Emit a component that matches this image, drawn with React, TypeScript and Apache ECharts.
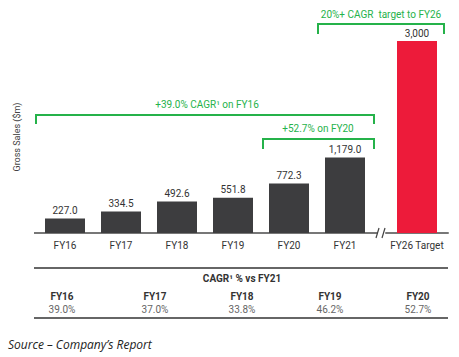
import React, { useEffect, useRef } from "react";
import * as echarts from "echarts";

const categories = ["FY16", "FY17", "FY18", "FY19", "FY20", "FY21"];
const salesValues = [227.0, 334.5, 492.6, 551.8, 772.3, 1179.0];
const targetCategory = ["FY26 Target"];
const targetValues = [3000];
const cagrLabels = ["FY16", "FY17", "FY18", "FY19", "FY20"];
const cagrValues = ["39.0%", "37.0%", "33.8%", "46.2%", "52.7%"];
const cagrColumnX = [62, 155, 242, 330, 418];

const GREEN = "#25B24A";
const DARK = "#3d3d3f";
const RED = "#ED1B3A";
const FONT = "Roboto, 'Noto Sans', sans-serif";

export default function App() {
  const ref = useRef<HTMLDivElement>(null);
  useEffect(() => {
    if (!ref.current) return;
    const chart = echarts.init(ref.current, null, { renderer: "svg" });
    const bracket = (x1: number, x2: number, y: number, drop: number) => ({
      type: "polyline",
      shape: { points: [[x1, y + drop], [x1, y], [x2, y], [x2, y + drop]] },
      style: { stroke: GREEN, lineWidth: 2, fill: "none" },
    });
    const gtext = (text: string, x: number, y: number, opts: any = {}) => ({
      type: "text",
      x,
      y,
      style: {
        text,
        fill: opts.fill || "#333",
        font: opts.font || `10px ${FONT}`,
        align: opts.align || "center",
        verticalAlign: "middle",
      },
    });
    const graphics: any[] = [
      { type: "line", shape: { x1: 34, y1: 233, x2: 378, y2: 233 }, style: { stroke: "#777", lineWidth: 2 } },
      { type: "line", shape: { x1: 376, y1: 238, x2: 379, y2: 228 }, style: { stroke: "#444", lineWidth: 1.2 } },
      { type: "line", shape: { x1: 382, y1: 238, x2: 385, y2: 228 }, style: { stroke: "#444", lineWidth: 1.2 } },
      bracket(318, 444, 24, 10),
      gtext("20%+ CAGR  target to FY26", 381, 14, { fill: GREEN }),
      bracket(36, 374, 115, 9),
      gtext("+39.0% CAGR\u00b9 on FY16", 207, 104, { fill: GREEN }),
      bracket(263, 374, 139, 10),
      gtext("+52.7% on FY20", 318, 128, { fill: GREEN }),
      { type: "line", shape: { x1: 34, y1: 268, x2: 448, y2: 268 }, style: { stroke: "#666", lineWidth: 2 } },
      { type: "line", shape: { x1: 34, y1: 318, x2: 448, y2: 318 }, style: { stroke: "#666", lineWidth: 2 } },
      gtext("CAGR\u00b9 % vs FY21", 242, 278, { font: `bold 10px ${FONT}`, fill: "#333" }),
      gtext("Source \u2013 Company\u2019s Report", 8, 344, {
        align: "left",
        font: `italic 12px 'Open Sans', 'DejaVu Sans', sans-serif`,
        fill: "#222",
      }),
    ];
    cagrLabels.forEach((l, i) => {
      graphics.push(gtext(l, cagrColumnX[i], 296, { font: `bold 10px ${FONT}`, fill: "#333" }));
      graphics.push(gtext(cagrValues[i], cagrColumnX[i], 309, { fill: "#666" }));
    });

    const yBase = {
      type: "value",
      min: 0,
      max: 3000,
      axisLine: { show: false },
      axisTick: { show: false },
      axisLabel: { show: false },
      splitLine: { show: false },
    };
    const xBase = {
      type: "category",
      axisTick: { show: false },
      axisLine: { show: true, lineStyle: { color: "#777", width: 2 } },
      axisLabel: { color: "#333", fontSize: 10, fontFamily: FONT, margin: 7 },
    };
    const fmt = (v: number, d: number) =>
      v.toLocaleString("en-US", { minimumFractionDigits: d, maximumFractionDigits: d });

    chart.setOption({
      animation: false,
      grid: [
        { left: 37, top: 41, width: 336, height: 192 },
        { left: 386, top: 41, width: 62, height: 192 },
      ],
      xAxis: [
        { ...xBase, gridIndex: 0, data: categories },
        { ...xBase, gridIndex: 1, data: targetCategory },
      ],
      yAxis: [
        {
          ...yBase,
          gridIndex: 0,
          name: "Gross Sales ($m)",
          nameLocation: "middle",
          nameRotate: 90,
          nameGap: 16,
          nameTextStyle: { color: "#444", fontSize: 9, fontFamily: FONT },
        },
        { ...yBase, gridIndex: 1 },
      ],
      series: [
        {
          type: "bar",
          xAxisIndex: 0,
          yAxisIndex: 0,
          data: salesValues,
          barWidth: 40,
          itemStyle: { color: DARK },
          label: {
            show: true,
            position: "top",
            distance: 3,
            color: "#333",
            fontSize: 10,
            fontFamily: FONT,
            formatter: (p: any) => fmt(p.value, 1),
          },
        },
        {
          type: "bar",
          xAxisIndex: 1,
          yAxisIndex: 1,
          data: targetValues,
          barWidth: 40,
          itemStyle: { color: RED },
          label: {
            show: true,
            position: "top",
            distance: 3,
            color: "#333",
            fontSize: 10,
            fontFamily: FONT,
            formatter: (p: any) => fmt(p.value, 0),
          },
        },
      ],
      graphic: graphics,
    });
    return () => chart.dispose();
  }, []);
  return (
    <div
      ref={ref}
      style={{ position: "fixed", left: 0, top: 0, width: 459, height: 357, background: "#fff" }}
    />
  );
}
